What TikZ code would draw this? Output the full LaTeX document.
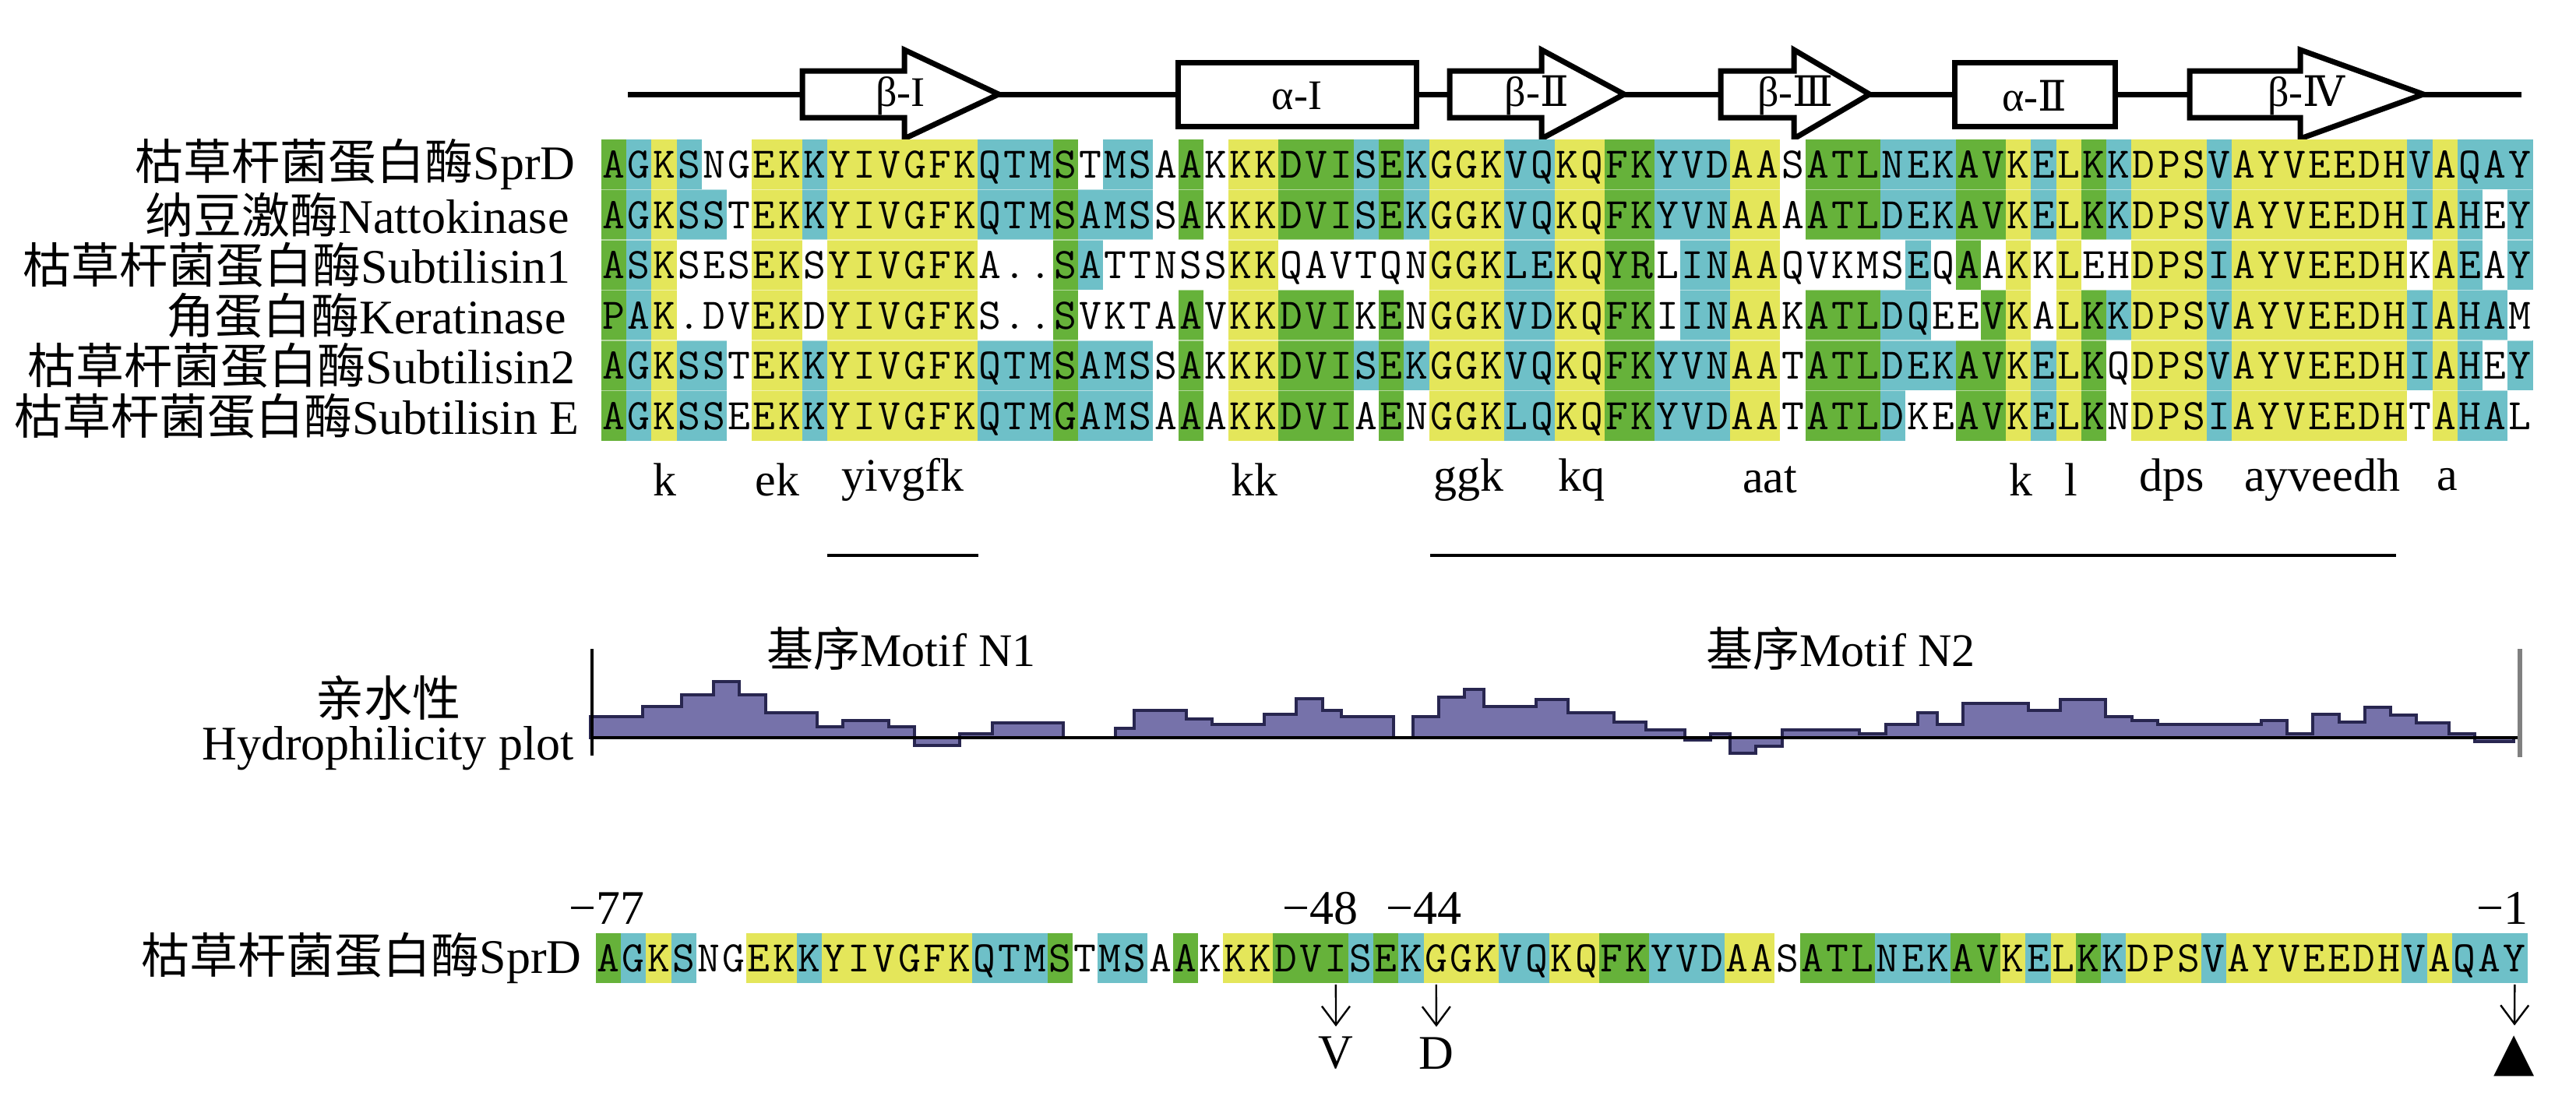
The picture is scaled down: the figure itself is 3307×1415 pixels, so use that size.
\documentclass[tikz,border=0pt]{standalone}
\usepackage{fontspec}
\setmainfont{Liberation Serif}
\newfontfamily\cjk{Noto Sans CJK SC}
\newfontfamily\symb{DejaVu Sans}
\newfontfamily\romnum{DejaVu Serif}
\usetikzlibrary{arrows.meta}

\definecolor{resg}{RGB}{102,178,58}
\definecolor{resc}{RGB}{110,192,200}
\definecolor{resy}{RGB}{228,230,90}
\colorlet{resw}{white}
\definecolor{hydfill}{RGB}{118,114,170}
\definecolor{hydline}{RGB}{40,38,80}

% residue/colour per column (g green, c cyan, y yellow, w none)
\def\rowsprd{A/g,G/c,K/y,S/c,N/w,G/w,E/y,K/y,K/c,Y/y,I/y,V/y,G/y,F/y,K/y,Q/c,T/c,M/c,S/g,T/w,M/c,S/c,A/w,A/g,K/w,K/y,K/y,D/g,V/g,I/g,S/c,E/g,K/c,G/y,G/y,K/y,V/c,Q/c,K/y,Q/y,F/g,K/g,Y/c,V/c,D/c,A/y,A/y,S/w,A/g,T/g,L/g,N/c,E/c,K/c,A/g,V/g,K/y,E/c,L/y,K/g,K/c,D/y,P/y,S/y,V/c,A/y,Y/y,V/y,E/y,E/y,D/y,H/y,V/c,A/y,Q/c,A/c,Y/c}
\def\rownatto{A/g,G/c,K/y,S/c,S/c,T/w,E/y,K/y,K/c,Y/y,I/y,V/y,G/y,F/y,K/y,Q/c,T/c,M/c,S/g,A/c,M/c,S/c,S/w,A/g,K/w,K/y,K/y,D/g,V/g,I/g,S/c,E/g,K/c,G/y,G/y,K/y,V/c,Q/c,K/y,Q/y,F/g,K/g,Y/c,V/c,N/c,A/y,A/y,A/w,A/g,T/g,L/g,D/c,E/c,K/c,A/g,V/g,K/y,E/c,L/y,K/g,K/c,D/y,P/y,S/y,V/c,A/y,Y/y,V/y,E/y,E/y,D/y,H/y,I/c,A/y,H/c,E/w,Y/c}
\def\rowsubone{A/g,S/c,K/y,S/w,E/w,S/w,E/y,K/y,S/w,Y/y,I/y,V/y,G/y,F/y,K/y,A/w,./w,./w,S/g,A/c,T/w,T/w,N/w,S/w,S/w,K/y,K/y,Q/w,A/w,V/w,T/w,Q/w,N/w,G/y,G/y,K/y,L/c,E/c,K/y,Q/y,Y/g,R/g,L/w,I/c,N/c,A/y,A/y,Q/w,V/w,K/w,M/w,S/w,E/c,Q/w,A/g,A/w,K/y,K/w,L/y,E/w,H/w,D/y,P/y,S/y,I/c,A/y,Y/y,V/y,E/y,E/y,D/y,H/y,K/w,A/y,E/c,A/w,Y/c}
\def\rowkera{P/g,A/c,K/y,./w,D/w,V/w,E/y,K/y,D/w,Y/y,I/y,V/y,G/y,F/y,K/y,S/w,./w,./w,S/g,V/w,K/w,T/w,A/w,A/g,V/w,K/y,K/y,D/g,V/g,I/g,K/w,E/g,N/w,G/y,G/y,K/y,V/c,D/c,K/y,Q/y,F/g,K/g,I/w,I/c,N/c,A/y,A/y,K/w,A/g,T/g,L/g,D/c,Q/c,E/w,E/w,V/g,K/y,A/w,L/y,K/g,K/c,D/y,P/y,S/y,V/c,A/y,Y/y,V/y,E/y,E/y,D/y,H/y,I/c,A/y,H/c,A/c,M/w}
\def\rowsubtwo{A/g,G/c,K/y,S/c,S/c,T/w,E/y,K/y,K/c,Y/y,I/y,V/y,G/y,F/y,K/y,Q/c,T/c,M/c,S/g,A/c,M/c,S/c,S/w,A/g,K/w,K/y,K/y,D/g,V/g,I/g,S/c,E/g,K/c,G/y,G/y,K/y,V/c,Q/c,K/y,Q/y,F/g,K/g,Y/c,V/c,N/c,A/y,A/y,T/w,A/g,T/g,L/g,D/c,E/c,K/c,A/g,V/g,K/y,E/c,L/y,K/g,Q/w,D/y,P/y,S/y,V/c,A/y,Y/y,V/y,E/y,E/y,D/y,H/y,I/c,A/y,H/c,E/w,Y/c}
\def\rowsube{A/g,G/c,K/y,S/c,S/c,E/w,E/y,K/y,K/c,Y/y,I/y,V/y,G/y,F/y,K/y,Q/c,T/c,M/c,G/g,A/c,M/c,S/c,A/w,A/g,A/w,K/y,K/y,D/g,V/g,I/g,A/w,E/g,N/w,G/y,G/y,K/y,L/c,Q/c,K/y,Q/y,F/g,K/g,Y/c,V/c,D/c,A/y,A/y,T/w,A/g,T/g,L/g,D/c,K/w,E/w,A/g,V/g,K/y,E/c,L/y,K/g,N/w,D/y,P/y,S/y,I/c,A/y,Y/y,V/y,E/y,E/y,D/y,H/y,T/w,A/y,H/c,A/c,L/w}

% one row of shaded residues: name prefix, x of first column edge, y, list
\newcommand{\seqrow}[4]{%
  \foreach \res/\cl [count=\ci] in #4
    \node[cell, fill=res\cl] (#1-\ci) at ({#2+32.2*(\ci-0.5)},#3) {\res};
}

\tikzset{every picture/.style={line width=0.75pt}}
\tikzset{
  cell/.style={minimum width=8.1pt, minimum height=16.2pt, inner sep=0pt, text height=8.6pt, text depth=0pt, font=\ttfamily\fontsize{14}{14}\selectfont},
  seqname/.style={anchor=east, inner sep=0pt, font=\fontsize{15.5}{16}\selectfont},
  ssline/.style={line width=1.75pt},
  sselem/.style={line width=1.75pt, fill=white, line join=miter},
  sslabel/.style={inner sep=0pt, font=\fontsize{13.5}{14}\selectfont},
  cons/.style={inner sep=0pt, font=\fontsize{15}{15}\selectfont},
  motifline/.style={line width=1.2pt},
  motiflabel/.style={inner sep=0pt, font=\fontsize{15}{15}\selectfont},
  hydro/.style={fill=hydfill, draw=hydline, line width=0.9pt},
  hydzero/.style={line width=0.9pt},
  hydaxis/.style={line width=0.8pt},
  poslabel/.style={inner sep=0pt, font=\fontsize{15.5}{16}\selectfont},
  mutlabel/.style={inner sep=0pt, font=\fontsize{15.5}{16}\selectfont},
  mutarrow/.style={line width=0.6pt, -{Straight Barb[length=6pt,width=9pt,line width=0.6pt]}, shorten >=3pt}
}

\begin{document}
\begin{tikzpicture}[x=0.25pt,y=0.25pt,yscale=-1,xscale=1]
\path[use as bounding box] (0,0) rectangle (3307,1415);

% secondary structure backbone
\draw[ssline] (806,121) -- (3237,121);
% beta strands
\draw[sselem] (1030,91) -- (1161,91) -- (1161,64) -- (1282,121) -- (1161,178) -- (1161,151) -- (1030,151) -- cycle;
\draw[sselem] (1861,91) -- (1979,91) -- (1979,64) -- (2085,121) -- (1979,178) -- (1979,151) -- (1861,151) -- cycle;
\draw[sselem] (2209,91) -- (2303,91) -- (2303,64) -- (2400,121) -- (2303,178) -- (2303,151) -- (2209,151) -- cycle;
\draw[sselem] (2811,91) -- (2953,91) -- (2953,64) -- (3111,121) -- (2953,178) -- (2953,151) -- (2811,151) -- cycle;
% helices
\draw[sselem] (1512,80) rectangle (1818,162);
\draw[sselem] (2509,80) rectangle (2715,162);

\node[sslabel] (bI) at (1156,123) {β-I};
\node[sslabel] (aI) at (1665,123) {α-I};
\node[sslabel] (bII) at (1973,123) {β-{\romnum Ⅱ}};
\node[sslabel] (bIII) at (2305,123) {β-{\romnum Ⅲ}};
\node[sslabel] (aII) at (2612,123) {α-{\romnum Ⅱ}};
\node[sslabel] (bIV) at (2961,123) {β-{\romnum Ⅳ}};

% alignment
\seqrow{r1}{772}{211.3}{\rowsprd}
\seqrow{r2}{772}{275.8}{\rownatto}
\seqrow{r3}{772}{340.3}{\rowsubone}
\seqrow{r4}{772}{404.8}{\rowkera}
\seqrow{r5}{772}{469.3}{\rowsubtwo}
\seqrow{r6}{772}{533.8}{\rowsube}
\foreach \k in {1,...,5}
  \draw[white, opacity=0.5, line width=0.4pt] (772,{179+64.5*\k}) -- (3251,{179+64.5*\k});

\node[seqname] (n1) at (740,211) {{\cjk 枯草杆菌蛋白酶}SprD};
\node[seqname] (n2) at (732,276) {{\cjk 纳豆激酶}Nattokinase};
\node[seqname] (n3) at (734,340) {{\cjk 枯草杆菌蛋白酶}Subtilisin1};
\node[seqname] (n4) at (728,405) {{\cjk 角蛋白酶}Keratinase};
\node[seqname] (n5) at (740,469) {{\cjk 枯草杆菌蛋白酶}Subtilisin2};
\node[seqname] (n6) at (745,534) {{\cjk 枯草杆菌蛋白酶}Subtilisin E};

% consensus
\node[cons] (c1) at (853,616) {k};
\node[cons] (c2) at (998,616) {ek};
\node[cons] (c3) at (1159,616) {yivgfk};
\node[cons] (c4) at (1610,616) {kk};
\node[cons] (c5) at (1885,616) {ggk};
\node[cons] (c6) at (2030,616) {kq};
\node[cons] (c7) at (2272,616) {aat};
\node[cons] (c8) at (2594,616) {k};
\node[cons] (c9) at (2659,616) {l};
\node[cons] (c10) at (2788,616) {dps};
\node[cons] (c11) at (2981,616) {ayveedh};
\node[cons] (c12) at (3142,616) {a};

% motifs
\draw[motifline] (1062,713) -- (1256,713);
\draw[motifline] (1836,713) -- (3076,713);
\node[motiflabel] (m1) at (1157,833) {{\cjk 基序}Motif N1};
\node[motiflabel] (m2) at (2363,833) {{\cjk 基序}Motif N2};

% hydrophilicity plot
\filldraw[hydro] (758,947) \foreach \xa/\xb/\yv in {758/825/920, 825/875/907, 875/916/892, 916/949/875, 949/983/892, 983/1049/915, 1049/1082/933, 1082/1141/925, 1141/1174/933, 1174/1232/957, 1232/1274/942, 1274/1365/928, 1365/1432/947, 1432/1456/935, 1456/1523/912, 1523/1556/923, 1556/1623/930, 1623/1664/917, 1664/1698/897, 1698/1722/912, 1722/1789/920, 1789/1814/947, 1814/1847/920, 1847/1880/895, 1880/1905/885, 1905/1972/907, 1972/2013/898, 2013/2072/915, 2072/2113/927, 2113/2163/937, 2163/2196/950, 2196/2221/942, 2221/2254/967, 2254/2288/958, 2288/2387/937, 2387/2421/942, 2421/2462/930, 2462/2487/915, 2487/2520/930, 2520/2604/903, 2604/2645/912, 2645/2703/898, 2703/2737/920, 2737/2770/925, 2770/2903/930, 2903/2936/925, 2936/2969/942, 2969/3003/917, 3003/3036/927, 3036/3069/908, 3069/3102/918, 3102/3144/928, 3144/3177/942, 3177/3227/952} { -- (\xa,\yv) -- (\xb,\yv) } -- (3227,947) -- cycle;
\draw[hydzero] (760,947) -- (3235,947);
\draw[hydaxis] (760,833) -- (760,970);
\draw[hydaxis, gray, line width=1.3pt] (3235,833) -- (3235,972);
\node[seqname, anchor=center] (hy1) at (498,896) {\cjk 亲水性};
\node[seqname, anchor=center] (hy2) at (498,961) {Hydrophilicity plot};

% SprD with positions
\seqrow{s}{765}{1230}{\rowsprd}
\node[seqname] (n7) at (748,1230) {{\cjk 枯草杆菌蛋白酶}SprD};
\node[poslabel] (p77) at (779,1166) {−77};
\node[poslabel] (p48) at (1695,1166) {−48};
\node[poslabel] (p44) at (1828,1166) {−44};
\node[poslabel] (p1) at (3212,1166) {−1};

\node[mutlabel] (mutV) at (1715,1352) {V};
\node[mutlabel] (mutD) at (1844,1352) {D};
\node[mutlabel, font=\symb\fontsize{17}{17}\selectfont] (cut) at (3228,1356) {▲};
\draw[mutarrow] (s-30.south) -- (mutV.north);
\draw[mutarrow] (s-34.south) -- (mutD.north);
\draw[mutarrow] (s-77.south) -- (cut.north);

\end{tikzpicture}
\end{document}
